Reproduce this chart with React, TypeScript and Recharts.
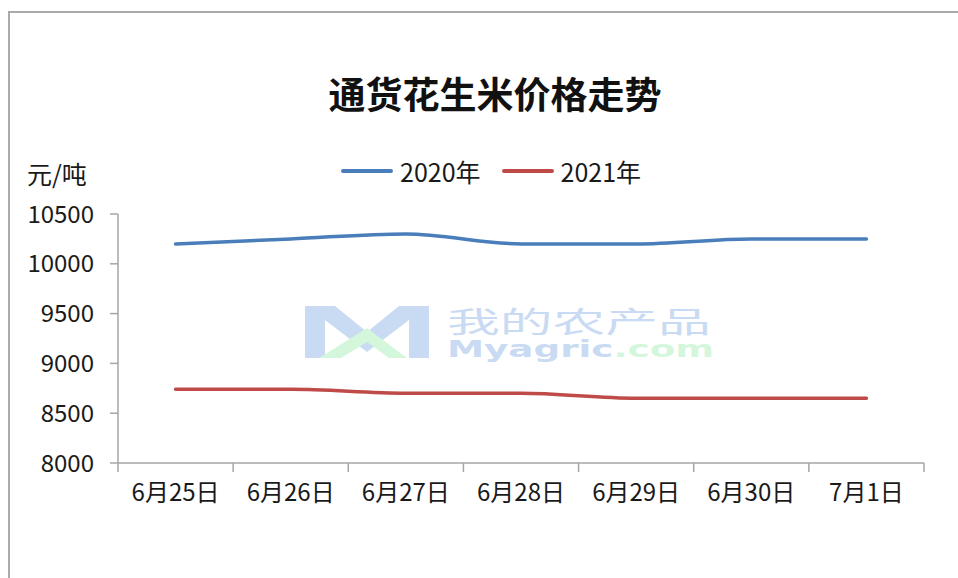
import React from 'react';
import { LineChart, Line, XAxis, YAxis } from 'recharts';

const dates = ['6月25日', '6月26日', '6月27日', '6月28日', '6月29日', '6月30日', '7月1日'];
const price2020 = [10200, 10250, 10300, 10200, 10200, 10250, 10250];
const price2021 = [8740, 8740, 8700, 8700, 8650, 8650, 8650];
const yTicks = [8000, 8500, 9000, 9500, 10000, 10500];

const series = [
  { key: 'y2020', name: '2020年', color: '#4a7ebb' },
  { key: 'y2021', name: '2021年', color: '#be4b48' }
];

const data = dates.map((date, i) => ({ date, y2020: price2020[i], y2021: price2021[i] }));

const font = '"Noto Sans CJK SC", "Noto Sans", sans-serif';
const axisColor = '#a6a6a6';
const textColor = '#1a1a1a';

// plot box
const plotLeft = 118;
const plotRight = 924;
const step = (plotRight - plotLeft) / dates.length;
const xTickSize = 9;
const xTickMargin = 12;

// Excel style: tick marks between categories, labels centred on them
const DateTick = (props: any) => {
  const { x, y, payload, index } = props;
  const top = y - xTickMargin - xTickSize;
  return (
    <g>
      <line x1={x - step / 2} x2={x - step / 2} y1={top} y2={top + xTickSize} stroke={axisColor} strokeWidth={1.5} />
      {index === dates.length - 1 && (
        <line x1={x + step / 2} x2={x + step / 2} y1={top} y2={top + xTickSize} stroke={axisColor} strokeWidth={1.5} />
      )}
      <text x={x} y={y} dy="0.71em" textAnchor="middle" fill={textColor} fontSize={24} fontFamily={font}>
        {payload.value}
      </text>
    </g>
  );
};

export default function App() {
  return (
    <div style={{ position: 'absolute', left: 0, top: 0, width: 958, height: 578, background: '#fff', overflow: 'hidden' }}>
      <div style={{ position: 'absolute', left: 8, top: 11, right: 0, bottom: 0, borderLeft: '2px solid #aaaaaa', borderTop: '2px solid #aaaaaa' }} />
      <div style={{ position: 'absolute', left: 0, width: 990, top: 66, textAlign: 'center', fontFamily: font, fontSize: 37, fontWeight: 700, color: '#111' }}>
        通货花生米价格走势
      </div>
      <div style={{ position: 'absolute', left: 27, top: 155, fontFamily: font, fontSize: 25, color: textColor }}>元/吨</div>

      {/* legend */}
      <div style={{ position: 'absolute', left: 341, top: 153, display: 'flex', alignItems: 'center', fontFamily: font, fontSize: 25, color: textColor }}>
        {series.map(s => (
          <div key={s.key} style={{ display: 'flex', alignItems: 'center', marginRight: 21 }}>
            <div style={{ width: 52, height: 4, borderRadius: 2, background: s.color, marginRight: 7 }} />
            <span>{s.name}</span>
          </div>
        ))}
      </div>

      {/* watermark */}
      <div style={{ position: 'absolute', left: 305, top: 306 }}>
        <svg width={124} height={52}>
          <path d="M0,0 L30,0 L62,26 L94,0 L124,0 L124,52 L104,52 L104,14 L62,46 L20,14 L20,52 L0,52 Z" fill="#c9daf3" />
          <path d="M14,52 L62,22 L102,52 L84,52 L62,36 L36,52 Z" fill="#d4f7dc" />
        </svg>
      </div>
      <div style={{ position: 'absolute', left: 447, top: 306, height: 28, lineHeight: '28px', fontFamily: font, fontSize: 29, color: '#c9daf3', transform: 'scaleX(1.82)', transformOrigin: 'left top' }}>我的农产品</div>
      <div style={{ position: 'absolute', left: 447, top: 339, height: 20, lineHeight: '20px', fontFamily: '"DejaVu Sans", sans-serif', fontSize: 23, fontWeight: 700, color: '#c9daf3', transform: 'scaleX(1.62)', transformOrigin: 'left top' }}>
        Myagric<span style={{ color: '#d4f7dc' }}>.com</span>
      </div>

      <div style={{ position: 'absolute', left: 0, top: 0 }}>
        <LineChart width={958} height={578} data={data} margin={{ top: 214, right: 958 - plotRight, bottom: 55, left: 0 }}>
          <XAxis
            dataKey="date"
            height={60}
            stroke={axisColor}
            strokeWidth={1.5}
            tickLine={false}
            tickSize={xTickSize}
            tickMargin={xTickMargin}
            tick={<DateTick />}
            interval={0}
            padding={{ left: step / 2, right: step / 2 }}
          />
          <YAxis
            width={plotLeft}
            domain={[8000, 10500]}
            ticks={yTicks}
            stroke={axisColor}
            strokeWidth={1.5}
            tickSize={8}
            tickMargin={16}
            tick={{ fill: textColor, fontSize: 24, fontFamily: font }}
            allowDataOverflow
          />
          {series.map(s => (
            <Line
              key={s.key}
              type="monotone"
              dataKey={s.key}
              name={s.name}
              stroke={s.color}
              strokeWidth={3.5}
              strokeLinecap="round"
              dot={false}
              activeDot={false}
              isAnimationActive={false}
            />
          ))}
        </LineChart>
      </div>
    </div>
  );
}
